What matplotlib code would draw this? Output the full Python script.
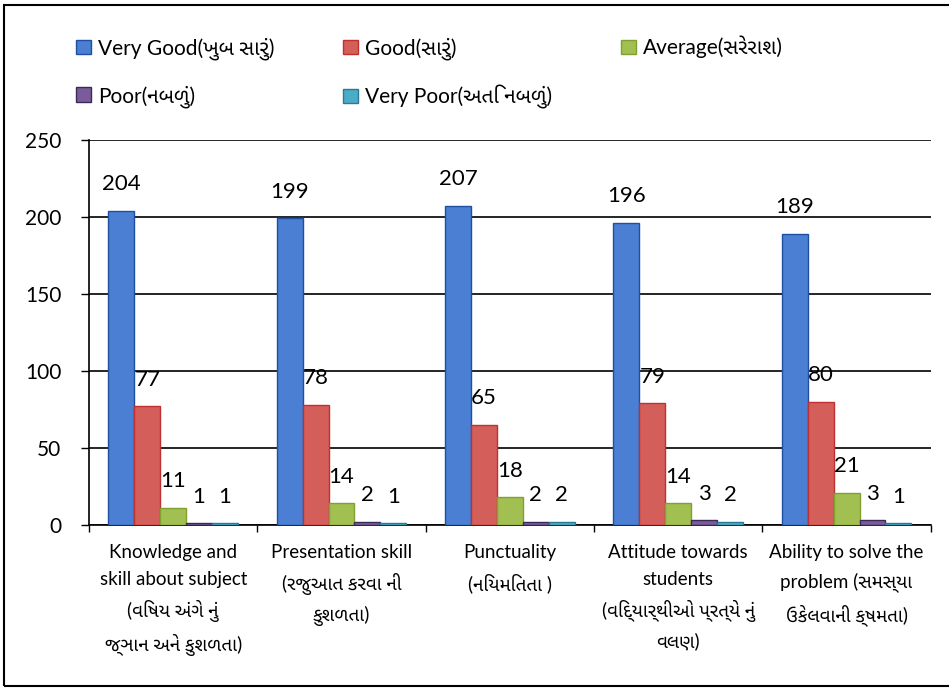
import numpy as np
import matplotlib
matplotlib.use("Agg")
import matplotlib.pyplot as plt
from matplotlib import font_manager
from matplotlib.ft2font import FT2Font
from matplotlib.patches import Rectangle

# look for an installed font that has Gujarati glyphs, prefer a dedicated one
cands = []
for path in font_manager.findSystemFonts():
    try:
        if 0x0A95 in FT2Font(path).get_charmap():
            cands.append(path)
    except Exception:
        pass
cands.sort(key=lambda p: (0 if 'gujarati' in p.lower() else 1,
                          0 if 'sans' in p.lower() else 1,
                          1 if 'bold' in p.lower() or 'italic' in p.lower() or 'oblique' in p.lower() else 0))
guj_font = font_manager.FontProperties(fname=cands[0]).get_name() if cands else None

families = ['Lato', 'DejaVu Sans']
if guj_font:
    families.insert(1, guj_font)
plt.rcParams['font.family'] = families

categories = [
    "Knowledge and\nskill about subject\n(વિષય અંગે નું\nજ્ઞાન અને કુશળતા)",
    "Presentation skill\n(રજુઆત કરવા ની\nકુશળતા)",
    "Punctuality\n(નિયમિતતા )",
    "Attitude towards\nstudents\n(વિદ્યાર્થીઓ પ્રત્યે નું\nવલણ)",
    "Ability to solve the\nproblem (સમસ્યા\nઉકેલવાની ક્ષમતા)",
]
series_names = ["Very Good(ખુબ સારું)", "Good(સારું)", "Average(સરેરાશ)",
                "Poor(નબળું)", "Very Poor(અતિ નબળું)"]
very_good = [204, 199, 207, 196, 189]
good = [77, 78, 65, 79, 80]
average = [11, 14, 18, 14, 21]
poor = [1, 2, 2, 3, 3]
very_poor = [1, 1, 2, 2, 1]
series = [very_good, good, average, poor, very_poor]

colors = ['#4A7FD4', '#D45F5A', '#A2C052', '#7A5C9A', '#4BACC6']
edges = ['#1F4FA0', '#C03030', '#80A030', '#3A2A5A', '#2A7A96']

fig = plt.figure(figsize=(9.49, 6.89), dpi=100)
ax = fig.add_axes([0.0938, 0.238, 0.887, 0.559])

x = np.arange(len(categories))
w = 1 / 6.5
handles = []
for i, vals in enumerate(series):
    pos = x + (i - 2) * w
    b = ax.bar(pos, vals, w, color=colors[i], edgecolor=edges[i], linewidth=1,
               label=series_names[i], zorder=3)
    handles.append(b)
    for p, v in zip(pos, vals):
        ax.annotate(str(v), (p, v), xytext=(0, 12), textcoords='offset points',
                    ha='center', va='bottom', fontsize=16)

ax.set_xlim(-0.5, len(categories) - 0.5)
ax.set_ylim(0, 250)
ax.set_yticks(range(0, 251, 50))
ax.yaxis.grid(True, color='black', linewidth=1.2, zorder=0)
ax.tick_params(axis='y', labelsize=15, length=6, width=1, pad=14, direction='out')

ax.set_xticks(x)
ax.set_xticklabels(categories, fontsize=13.5, linespacing=1.7, va='top')
ax.tick_params(axis='x', length=0, pad=14)
ax.set_xticks(np.arange(-0.5, len(categories)), minor=True)
ax.tick_params(axis='x', which='minor', length=5, width=1)

for s in ['top', 'right']:
    ax.spines[s].set_visible(False)
for s in ['left', 'bottom']:
    ax.spines[s].set_linewidth(1.2)

# legend in row-major order: 3 columns
order = [0, 3, 1, 4, 2]
fig.legend([handles[i] for i in order], [series_names[i] for i in order],
           ncol=3, loc='upper left', bbox_to_anchor=(0.0605, 0.975),
           frameon=False, fontsize=15, handlelength=0.7, handleheight=0.7,
           handletextpad=0.35, columnspacing=3.3, labelspacing=1.2)

fig.patches.append(Rectangle((4 / 949, 3 / 689), 1.0, 681 / 689, transform=fig.transFigure,
                             fill=False, edgecolor='black', linewidth=1.5))

fig.savefig("out.png", dpi=100)
